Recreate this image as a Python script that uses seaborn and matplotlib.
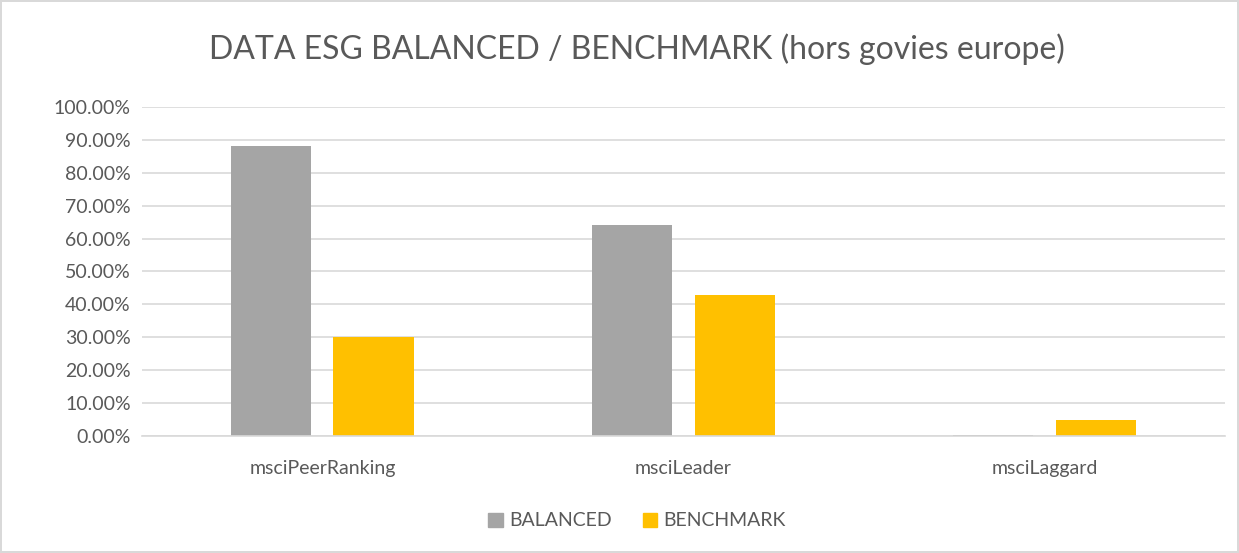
import matplotlib
matplotlib.use("Agg")
import matplotlib.pyplot as plt
from matplotlib.ticker import PercentFormatter, MultipleLocator
import pandas as pd
import seaborn as sns

categories = ["msciPeerRanking", "msciLeader", "msciLaggard"]
balanced = [0.882, 0.641, 0.003]
benchmark = [0.302, 0.428, 0.0475]
series_names = ["BALANCED", "BENCHMARK"]
colors = ["#A5A5A5", "#FFC000"]

df = pd.DataFrame({
    "category": categories * 2,
    "value": balanced + benchmark,
    "series": [series_names[0]] * 3 + [series_names[1]] * 3,
})

sns.set_style("white")
plt.rcParams["font.family"] = ["Lato", "DejaVu Sans"]

fig = plt.figure(figsize=(12.39, 5.53), dpi=100)
fig.patch.set_edgecolor("#D9D9D9")
fig.patch.set_linewidth(1.5)
ax = fig.add_axes([0.1146, 0.2116, 0.8741, 0.5949])

sns.barplot(data=df, x="category", y="value", hue="series",
            palette=colors, saturation=1, width=0.57, gap=0.214,
            linewidth=0, ax=ax, legend=False)

ax.set_xlim(-0.5, 2.5)
ax.set_ylim(0, 1.0)
ax.yaxis.set_major_locator(MultipleLocator(0.1))
ax.yaxis.set_major_formatter(PercentFormatter(1, decimals=2))
ax.grid(axis="y", color="#D9D9D9", linewidth=1.2)
ax.set_axisbelow(True)
for s in ["top", "right", "left"]:
    ax.spines[s].set_visible(False)
ax.spines["bottom"].set_color("#D9D9D9")
ax.spines["bottom"].set_linewidth(1.2)
ax.tick_params(axis="both", length=0, labelsize=14, colors="#595959")
ax.tick_params(axis="x", pad=17)
ax.tick_params(axis="y", pad=8)
ax.set_xlabel("")
ax.set_ylabel("")

fig.suptitle("DATA ESG BALANCED / BENCHMARK (hors govies europe)",
             x=0.514, y=0.94, fontsize=23, color="#595959")

handles = [plt.Rectangle((0, 0), 1, 1, color=c) for c in colors]
fig.legend(handles, series_names, loc="center", bbox_to_anchor=(0.514, 0.058),
           ncol=2, frameon=False, fontsize=14, handlelength=0.75,
           handleheight=0.75, handletextpad=0.3, columnspacing=1.6,
           labelcolor="#595959")

fig.savefig("out.png", dpi=100)
